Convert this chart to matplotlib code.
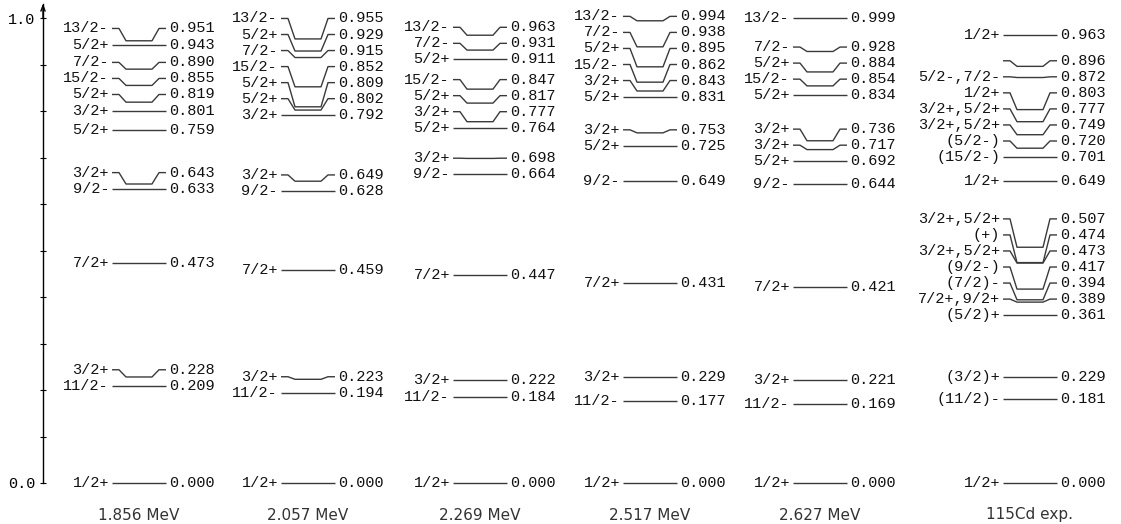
import matplotlib.pyplot as plt

# level energies (MeV) with spin-parity for each calculation and the experiment
titles = ['1.856 MeV', '2.057 MeV', '2.269 MeV', '2.517 MeV', '2.627 MeV', '115Cd exp.']

spins_1856 = ['1/2+', '11/2-', '3/2+', '7/2+', '9/2-', '3/2+', '5/2+', '3/2+',
              '5/2+', '15/2-', '7/2-', '5/2+', '13/2-']
energies_1856 = [0.000, 0.209, 0.228, 0.473, 0.633, 0.643, 0.759, 0.801,
                 0.819, 0.855, 0.890, 0.943, 0.951]

spins_2057 = ['1/2+', '11/2-', '3/2+', '7/2+', '9/2-', '3/2+', '3/2+', '5/2+',
              '5/2+', '15/2-', '7/2-', '5/2+', '13/2-']
energies_2057 = [0.000, 0.194, 0.223, 0.459, 0.628, 0.649, 0.792, 0.802,
                 0.809, 0.852, 0.915, 0.929, 0.955]

spins_2269 = ['1/2+', '11/2-', '3/2+', '7/2+', '9/2-', '3/2+', '5/2+', '3/2+',
              '5/2+', '15/2-', '5/2+', '7/2-', '13/2-']
energies_2269 = [0.000, 0.184, 0.222, 0.447, 0.664, 0.698, 0.764, 0.777,
                 0.817, 0.847, 0.911, 0.931, 0.963]

spins_2517 = ['1/2+', '11/2-', '3/2+', '7/2+', '9/2-', '5/2+', '3/2+', '5/2+',
              '3/2+', '15/2-', '5/2+', '7/2-', '13/2-']
energies_2517 = [0.000, 0.177, 0.229, 0.431, 0.649, 0.725, 0.753, 0.831,
                 0.843, 0.862, 0.895, 0.938, 0.994]

spins_2627 = ['1/2+', '11/2-', '3/2+', '7/2+', '9/2-', '5/2+', '3/2+', '3/2+',
              '5/2+', '15/2-', '5/2+', '7/2-', '13/2-']
energies_2627 = [0.000, 0.169, 0.221, 0.421, 0.644, 0.692, 0.717, 0.736,
                 0.834, 0.854, 0.884, 0.928, 0.999]

spins_exp = ['1/2+', '(11/2)-', '(3/2)+', '(5/2)+', '7/2+,9/2+', '(7/2)-',
             '(9/2-)', '3/2+,5/2+', '(+)', '3/2+,5/2+', '1/2+', '(15/2-)',
             '(5/2-)', '3/2+,5/2+', '3/2+,5/2+', '1/2+', '5/2-,7/2-', '', '1/2+']
energies_exp = [0.000, 0.181, 0.229, 0.361, 0.389, 0.394, 0.417, 0.473, 0.474,
                0.507, 0.649, 0.701, 0.720, 0.749, 0.777, 0.803, 0.872, 0.896,
                0.963]

columns = [
    (spins_1856, energies_1856),
    (spins_2057, energies_2057),
    (spins_2269, energies_2269),
    (spins_2517, energies_2517),
    (spins_2627, energies_2627),
    (spins_exp, energies_exp),
]

# horizontal layout in pixels
col_centers = [139, 308, 480, 650, 820, 1030]
half_width = 27
stub = 7
slant = 7
min_gap = 0.0345

mono = 'Liberation Mono'
mono_size = 11
line_color = '#3a3a3a'


def spread_labels(energies):
    # push labels upwards so neighbouring ones keep a minimum distance
    out = []
    for e in energies:
        if out and e < out[-1] + min_gap:
            out.append(out[-1] + min_gap)
        else:
            out.append(e)
    return out


fig = plt.figure(figsize=(11.21, 5.24), dpi=100)
ax = fig.add_axes([0, 0, 1, 1])
ax.set_xlim(0, 1121)
ax.set_ylim(-41 / 465, 1 + 18 / 465)

for (spins, energies), c, title in zip(columns, col_centers, titles):
    x0 = c - half_width
    x1 = c + half_width
    for spin, e, ylab in zip(spins, energies, spread_labels(energies)):
        if abs(ylab - e) < 1e-9:
            xs = [x0, x1]
            ys = [e, e]
        else:
            xs = [x0, x0 + stub, x0 + stub + slant, x1 - stub - slant, x1 - stub, x1]
            ys = [ylab, ylab, e, e, ylab, ylab]
        ax.plot(xs, ys, color=line_color, lw=1.0, solid_capstyle='butt')
        ax.text(x0 - 3, ylab, spin, ha='right', va='center',
                family=mono, fontsize=mono_size, color='#111111')
        ax.text(x1 + 3, ylab, f'{e:.3f}', ha='left', va='center',
                family=mono, fontsize=mono_size, color='#111111')
    ax.text(c, -32 / 465, title, ha='center', va='center',
            fontsize=11, color='#333333')

# energy axis with arrow
for side in ['top', 'right', 'bottom']:
    ax.spines[side].set_visible(False)
ax.spines['left'].set_position(('data', 43))
ax.spines['left'].set_bounds(0, 1.03)
ax.spines['left'].set_linewidth(1.0)
ticks = [i / 10 for i in range(11)]
tick_labels = ['0.0'] + [''] * 9 + ['1.0']
ax.set_yticks(ticks, tick_labels)
ax.set_xticks([])
ax.tick_params(axis='y', direction='inout', length=5, width=0.8, pad=3,
               labelsize=mono_size)
for lbl in ax.get_yticklabels():
    lbl.set_family(mono)
ax.annotate('', xy=(43, 1.031), xytext=(43, 1.0),
            arrowprops=dict(arrowstyle='->,head_length=0.4,head_width=0.15',
                            lw=1.0, color='black', shrinkA=0, shrinkB=0))

fig.savefig('out.png', dpi=100)
